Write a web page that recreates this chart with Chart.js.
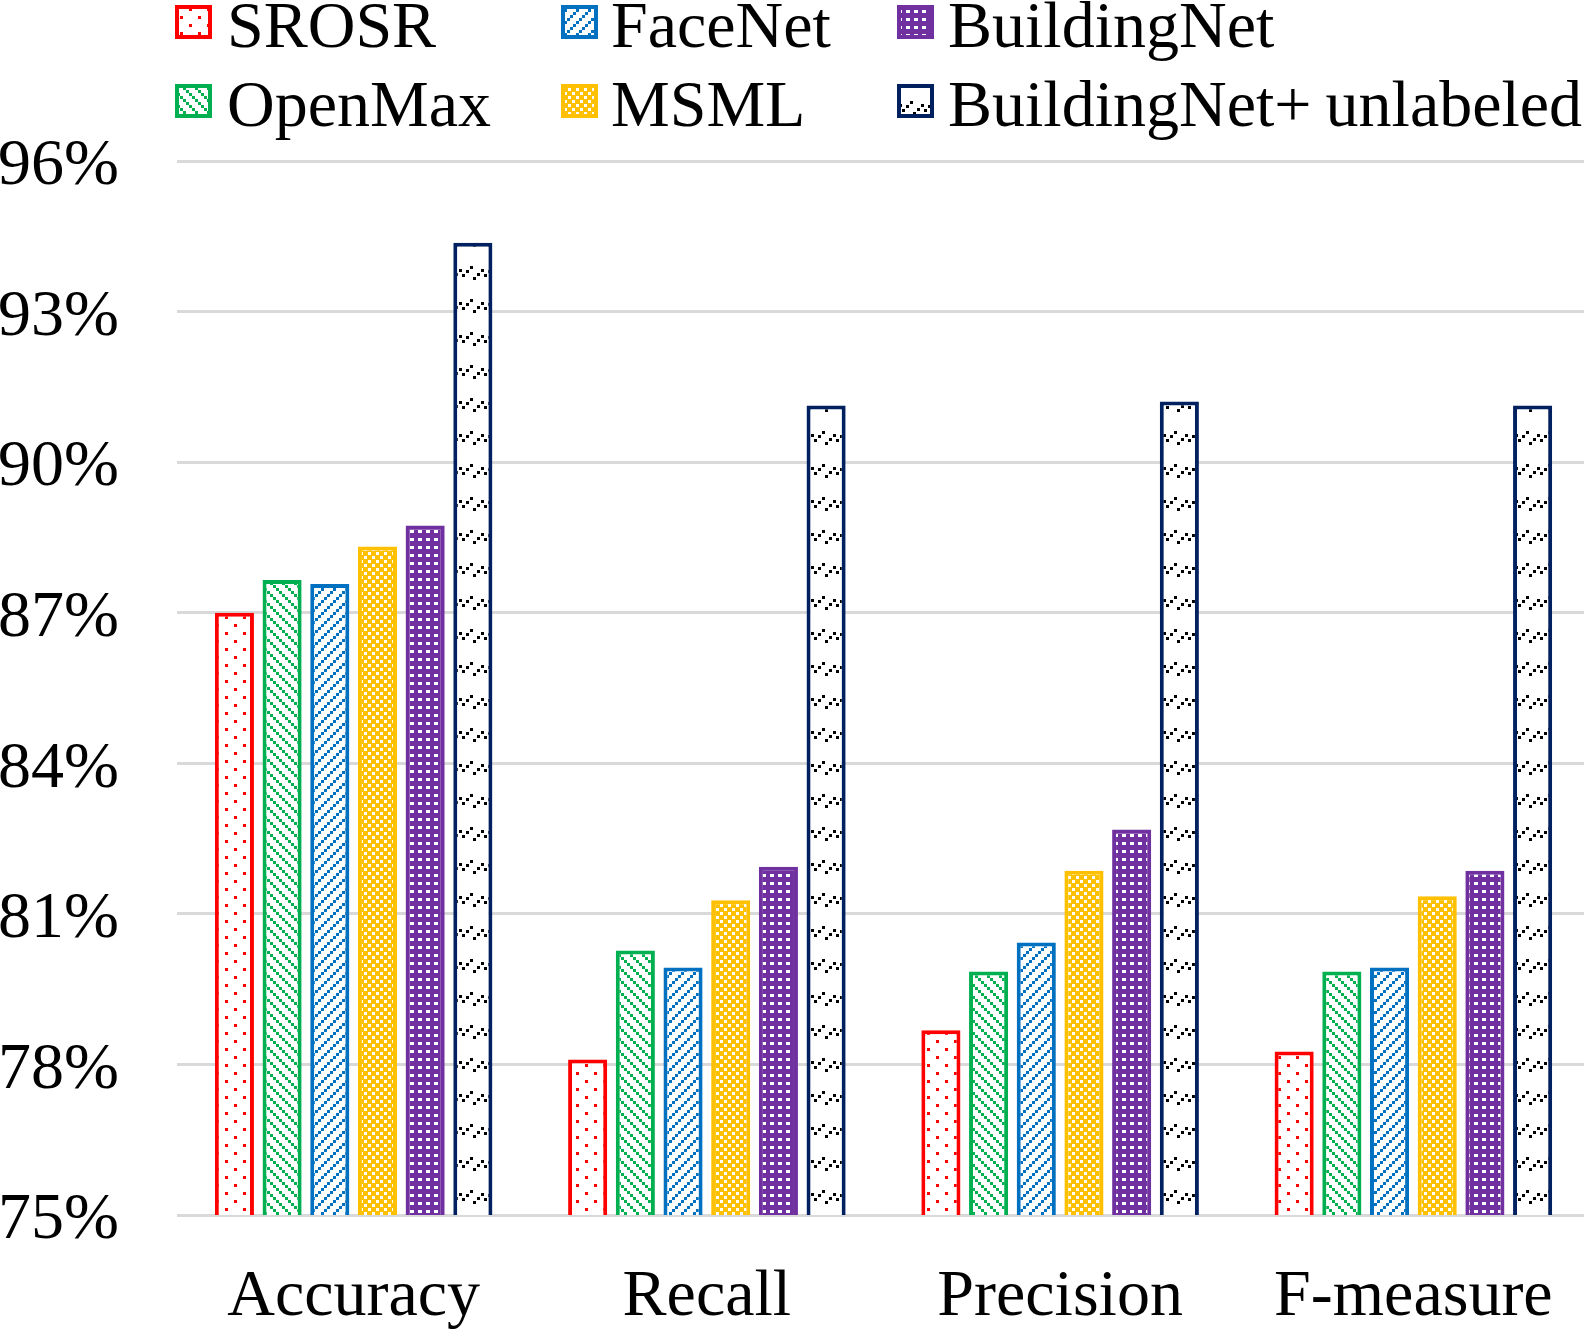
<!DOCTYPE html>
<html><head><meta charset="utf-8">
<script src="https://cdn.jsdelivr.net/npm/chart.js@4"></script>
<style>html,body{margin:0;padding:0;background:#fff;overflow:hidden}#wrap{width:1584px;height:1331px;position:relative;overflow:hidden}</style>
</head><body><div id="wrap"><canvas id="c" width="1590" height="1331"></canvas></div>
<script>
// ---- data ----
const categories = ['Accuracy', 'Recall', 'Precision', 'F-measure'];
const seriesNames = ['SROSR', 'OpenMax', 'FaceNet', 'MSML', 'BuildingNet', 'BuildingNet+unlabeled'];
const srosr = [87.0, 78.1, 78.68, 78.26];
const openmax = [87.65, 80.27, 79.85, 79.85];
const facenet = [87.57, 79.93, 80.43, 79.93];
const msml = [88.32, 81.27, 81.86, 81.35];
const buildingnet = [88.74, 81.94, 82.68, 81.86];
const buildingnetU = [94.37, 91.13, 91.21, 91.13];
const yMin = 75, yMax = 96, yStep = 3;

// ---- styles ----
const FONT = '"Liberation Serif", "Times New Roman", serif';
const canvas = document.getElementById('c');
const ctx = canvas.getContext('2d');
function makePattern(w, h, bg, fg, rects) {
  const c = document.createElement('canvas');
  c.width = w; c.height = h;
  const x = c.getContext('2d');
  x.fillStyle = bg; x.fillRect(0, 0, w, h);
  x.fillStyle = fg;
  rects.forEach(r => x.fillRect(r[0], r[1], r[2], r[3]));
  return ctx.createPattern(c, 'repeat');
}
const styles = [
  { border: '#FF0000', fill: makePattern(18, 16, '#ffffff', '#FF0000', [[0,0,3,3],[9,8,3,3]]) },
  { border: '#00B050', fill: makePattern(12, 12, '#ffffff', '#00B050', [[0,0,3,3],[3,3,3,3],[6,6,3,3],[9,9,3,3]]) },
  { border: '#0070C0', fill: makePattern(12, 12, '#ffffff', '#0070C0', [[9,0,3,3],[6,3,3,3],[3,6,3,3],[0,9,3,3]]) },
  { border: '#FFC000', fill: makePattern(8, 8, '#FFC000', '#ffffff', [[0,0,3,3],[4,4,3,3]]) },
  { border: '#7030A0', fill: makePattern(8, 8, '#7030A0', '#ffffff', [[2,2,4,3]]) },
  { border: '#002060', fill: makePattern(22, 33, '#ffffff', '#000000', [[0,10,3,3],[4,6,3,3],[8,2,3,3],[11,13,3,3],[15,9,3,3],[19,5,3,3]]) }
];
const seriesValues = [srosr, openmax, facenet, msml, buildingnet, buildingnetU];

const datasets = seriesNames.map((name, i) => ({
  label: name,
  data: seriesValues[i],
  backgroundColor: styles[i].fill,
  borderColor: styles[i].border,
  borderWidth: 4,
  borderSkipped: 'start',
  categoryPercentage: 0.81,
  barPercentage: 0.82
}));

// custom legend: 3 columns x 2 rows, column-major
const legendPlugin = {
  id: 'customLegend',
  afterDraw(chart) {
    const c = chart.ctx;
    const boxX = [175, 561, 897];
    const textX = [227, 611, 948];
    const boxY = [5, 84];
    const baseY = [47, 126];
    const w = 37, h = 34;
    c.save();
    seriesNames.forEach((name, i) => {
      const col = Math.floor(i / 2), row = i % 2;
      c.fillStyle = styles[i].fill;
      c.fillRect(boxX[col], boxY[row], w, h);
      c.strokeStyle = styles[i].border;
      c.lineWidth = 4;
      c.strokeRect(boxX[col] + 2, boxY[row] + 2, w - 4, h - 4);
      c.fillStyle = '#000';
      c.font = '66px ' + FONT;
      c.textAlign = 'left';
      c.textBaseline = 'alphabetic';
      const plus = name.indexOf('+');
      if (plus >= 0) {
        const a = name.slice(0, plus + 1), b = name.slice(plus + 1);
        c.fillText(a, textX[col], baseY[row]);
        c.fillText(b, textX[col] + c.measureText(a).width + 14, baseY[row]);
      } else {
        c.fillText(name, textX[col], baseY[row]);
      }
    });
    c.restore();
  }
};

new Chart(canvas, {
  type: 'bar',
  data: { labels: categories, datasets },
  options: {
    responsive: false,
    animation: false,
    devicePixelRatio: 1,
    layout: { padding: { top: 161, right: 0, bottom: 0, left: 0 } },
    plugins: { legend: { display: false }, tooltip: { enabled: false } },
    scales: {
      x: {
        grid: { display: false, drawTicks: false },
        border: { display: false },
        ticks: { color: '#000', font: { family: FONT, size: 66 }, padding: 43, maxRotation: 0 },
        afterFit(s) { s.height = 116; s.paddingRight = 0; s.paddingLeft = 0; }
      },
      y: {
        min: yMin, max: yMax,
        grid: { color: '#D9D9D9', lineWidth: 3, drawTicks: false },
        border: { display: false },
        ticks: {
          stepSize: yStep, color: '#000', padding: 58, labelOffset: 6,
          font: { family: FONT, size: 66 },
          callback: v => v + '%'
        },
        afterFit(s) { s.width = 177; }
      }
    }
  },
  plugins: [legendPlugin]
});
</script>
</body></html>
